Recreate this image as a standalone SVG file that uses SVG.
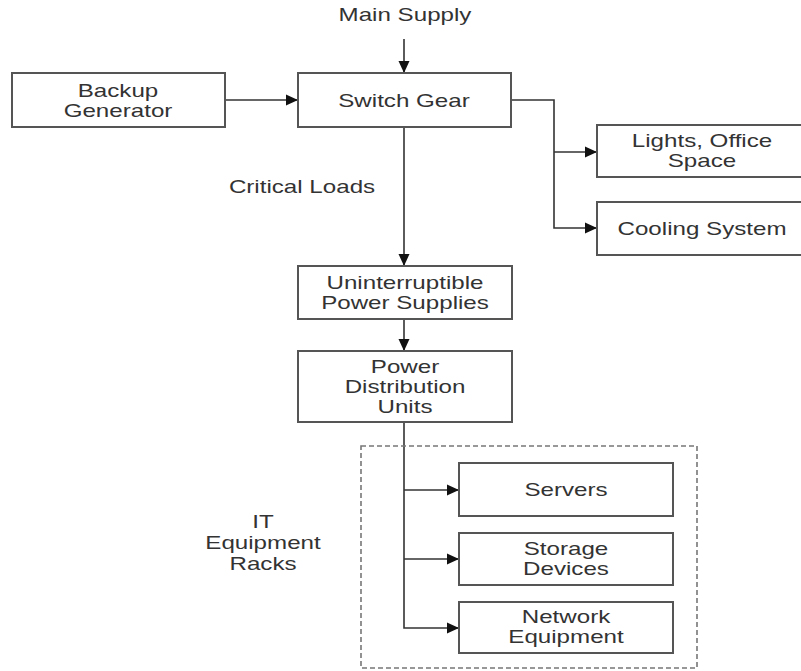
<svg xmlns="http://www.w3.org/2000/svg" width="801" height="671" viewBox="0 0 801 671">
<defs>
<style>
.box{fill:#fff;stroke:#555;stroke-width:2}
.ln{fill:none;stroke:#333;stroke-width:1.6}
.t{font-family:"Liberation Sans",Arial,sans-serif;font-size:17.5px;fill:#333;text-anchor:middle}
</style>
<marker id="ah" viewBox="0 0 12 12" refX="12" refY="6" markerWidth="12" markerHeight="12" markerUnits="userSpaceOnUse" orient="auto">
<path d="M0,0.5 L12,6 L0,11.5 Z" fill="#111"/>
</marker>
</defs>
<rect width="801" height="671" fill="#fff"/>
<g id="connectors">
<line class="ln" x1="404" y1="39" x2="404" y2="73" marker-end="url(#ah)"/>
<line class="ln" x1="225" y1="100" x2="298" y2="100" marker-end="url(#ah)"/>
<polyline class="ln" points="511,100 554,100 554,228 597,228" marker-end="url(#ah)"/>
<line class="ln" x1="554" y1="152" x2="597" y2="152" marker-end="url(#ah)"/>
<line class="ln" x1="404" y1="127" x2="404" y2="266" marker-end="url(#ah)"/>
<line class="ln" x1="404" y1="319" x2="404" y2="351" marker-end="url(#ah)"/>
<polyline class="ln" points="404,422 404,628 459,628" marker-end="url(#ah)"/>
<line class="ln" x1="404" y1="490" x2="459" y2="490" marker-end="url(#ah)"/>
<line class="ln" x1="404" y1="559" x2="459" y2="559" marker-end="url(#ah)"/>
</g>
<g id="racks">
<rect x="361" y="446" width="336" height="222" fill="none" stroke="#777" stroke-width="1.6" stroke-dasharray="5,3"/>
<text class="t" transform="translate(263,528) scale(1.38,1)">IT</text>
<text class="t" transform="translate(263,549) scale(1.38,1)">Equipment</text>
<text class="t" transform="translate(263,570) scale(1.38,1)">Racks</text>
</g>
<g id="main-supply">
<text class="t" transform="translate(405,21) scale(1.38,1)">Main Supply</text>
</g>
<g id="critical-loads">
<text class="t" transform="translate(302,193) scale(1.38,1)">Critical Loads</text>
</g>
<g id="backup">
<rect class="box" x="12" y="73" width="213" height="54"/>
<text class="t" transform="translate(118,97) scale(1.38,1)">Backup</text>
<text class="t" transform="translate(118,117) scale(1.38,1)">Generator</text>
</g>
<g id="switch">
<rect class="box" x="298" y="73" width="213" height="54"/>
<text class="t" transform="translate(404,107) scale(1.38,1)">Switch Gear</text>
</g>
<g id="lights">
<rect class="box" x="597" y="125" width="215" height="52"/>
<text class="t" transform="translate(702,147) scale(1.38,1)">Lights, Office</text>
<text class="t" transform="translate(702,167) scale(1.38,1)">Space</text>
</g>
<g id="cooling">
<rect class="box" x="597" y="202" width="215" height="53"/>
<text class="t" transform="translate(702,235) scale(1.38,1)">Cooling System</text>
</g>
<g id="ups">
<rect class="box" x="298" y="266" width="214" height="53"/>
<text class="t" transform="translate(405,289) scale(1.38,1)">Uninterruptible</text>
<text class="t" transform="translate(405,309) scale(1.38,1)">Power Supplies</text>
</g>
<g id="pdu">
<rect class="box" x="298" y="351" width="214" height="71"/>
<text class="t" transform="translate(405,373) scale(1.38,1)">Power</text>
<text class="t" transform="translate(405,393) scale(1.38,1)">Distribution</text>
<text class="t" transform="translate(405,413) scale(1.38,1)">Units</text>
</g>
<g id="servers">
<rect class="box" x="459" y="463" width="214" height="53"/>
<text class="t" transform="translate(566,496) scale(1.38,1)">Servers</text>
</g>
<g id="storage">
<rect class="box" x="459" y="533" width="214" height="52"/>
<text class="t" transform="translate(566,555) scale(1.38,1)">Storage</text>
<text class="t" transform="translate(566,575) scale(1.38,1)">Devices</text>
</g>
<g id="network">
<rect class="box" x="459" y="602" width="214" height="51"/>
<text class="t" transform="translate(566,623) scale(1.38,1)">Network</text>
<text class="t" transform="translate(566,643) scale(1.38,1)">Equipment</text>
</g>
</svg>
